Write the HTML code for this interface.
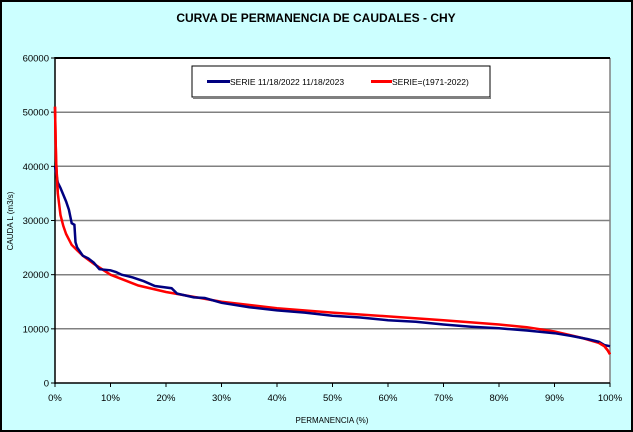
<!DOCTYPE html>
<html><head><meta charset="utf-8"><style>
html,body{margin:0;padding:0;background:#fff}
svg{display:block}
text{font-family:"Liberation Sans",Arial,sans-serif}
</style></head><body>
<svg id="s" width="633" height="432" viewBox="0 0 633 432" xmlns="http://www.w3.org/2000/svg">
<rect x="1" y="1" width="631" height="430" fill="#ccffff" stroke="#000" stroke-width="2"/>
<text x="316" y="22" font-size="12" font-weight="bold" text-anchor="middle">CURVA DE PERMANENCIA DE CAUDALES - CHY</text>
<rect x="55" y="58" width="555" height="325" fill="#fff"/>
<g stroke="#808080" stroke-width="1.5">
<line x1="55" y1="112.2" x2="610" y2="112.2"/>
<line x1="55" y1="166.3" x2="610" y2="166.3"/>
<line x1="55" y1="220.5" x2="610" y2="220.5"/>
<line x1="55" y1="274.7" x2="610" y2="274.7"/>
<line x1="55" y1="328.8" x2="610" y2="328.8"/>
<line x1="610" y1="58" x2="610" y2="383"/>
</g>
<line x1="55" y1="58" x2="610" y2="58" stroke="#000" stroke-width="2"/>
<line x1="55" y1="57" x2="55" y2="384" stroke="#000" stroke-width="1.5"/>
<line x1="55" y1="383" x2="610" y2="383" stroke="#000" stroke-width="1.5"/>
<g id="ticks" stroke="#000" stroke-width="1"></g>
<g font-size="9.5" text-anchor="end" id="ylab"></g>
<g font-size="9.5" text-anchor="middle" id="xlab"></g>
<text x="332" y="423" font-size="8" text-anchor="middle">PERMANENCIA (%)</text>
<text transform="translate(13,221) rotate(-90)" font-size="8" text-anchor="middle">CAUDA L (m3/s)</text>
<polyline id="red" fill="none" stroke="#ff0000" stroke-width="2.5"/>
<polyline id="blue" fill="none" stroke="#000080" stroke-width="2.5"/>
<polyline id="red2" fill="none" stroke="#ff0000" stroke-width="2.5"/>
<polyline id="red3" fill="none" stroke="#ff0000" stroke-width="2.5"/>
<rect x="192" y="66" width="298" height="31" fill="#fff" stroke="#000" stroke-width="1"/>
<line x1="193" y1="98" x2="491" y2="98" stroke="#808080" stroke-width="2"/>
<line x1="207" y1="81.5" x2="230" y2="81.5" stroke="#000080" stroke-width="3"/>
<text x="230" y="85" font-size="8.5">SERIE 11/18/2022 11/18/2023</text>
<line x1="371" y1="81.5" x2="392" y2="81.5" stroke="#ff0000" stroke-width="3"/>
<text x="392" y="85" font-size="8.5">SERIE=(1971-2022)</text>
</svg>
<script>
var X=p=>55+5.55*p, Y=v=>383-v*0.0054167;
function pts(a){return a.map(d=>X(d[0]).toFixed(1)+","+Y(d[1]).toFixed(1)).join(" ");}
var red=[[0,51000],[0.1,45000],[0.2,41000],[0.5,35000],[1,31000],[1.5,29000],[2,27500],[3,25500],[4,24500],[5,23500],[7,22000],[10,20000],[15,18000],[20,16800],[25,15900],[30,15000],[40,13800],[50,13000],[60,12300],[70,11600],[80,10800],[85,10300],[90,9500],[95,8300],[98,7400],[99,6800],[99.6,6000],[100,5300]];
var blue=[[0,40000],[0.5,37000],[1,36000],[2,33500],[2.5,32000],[3,29500],[3.5,29200],[3.7,26000],[4,25000],[5,23500],[6,23000],[7,22200],[8,21000],[10,20800],[11,20500],[12,20000],[14,19500],[16,18800],[18,17900],[21,17500],[22,16500],[25,15800],[27,15700],[30,14800],[35,14000],[40,13400],[45,13000],[50,12400],[55,12100],[60,11600],[65,11300],[70,10800],[75,10400],[80,10100],[85,9700],[90,9200],[93,8700],[96,8100],[98,7600],[99,7000],[100,6800]];
document.getElementById("red").setAttribute("points",pts(red));
document.getElementById("blue").setAttribute("points",pts(blue));
document.getElementById("red2").setAttribute("points",pts(red.filter(d=>d[0]<=0.5)));
document.getElementById("red3").setAttribute("points",pts(red.filter(d=>d[0]>=98)));
var ns="http://www.w3.org/2000/svg",t=document.getElementById("ticks"),yl=document.getElementById("ylab"),xl=document.getElementById("xlab");
for(var i=0;i<=6;i++){var y=Y(i*10000);var l=document.createElementNS(ns,"line");l.setAttribute("x1",51);l.setAttribute("x2",55);l.setAttribute("y1",y);l.setAttribute("y2",y);t.appendChild(l);
var tx=document.createElementNS(ns,"text");tx.setAttribute("x",49);tx.setAttribute("y",y+3.5);tx.textContent=i*10000;yl.appendChild(tx);}
for(var j=0;j<=10;j++){var x=X(j*10);var l=document.createElementNS(ns,"line");l.setAttribute("x1",x);l.setAttribute("x2",x);l.setAttribute("y1",383);l.setAttribute("y2",387);t.appendChild(l);
var tx=document.createElementNS(ns,"text");tx.setAttribute("x",x);tx.setAttribute("y",401);tx.textContent=(j*10)+"%";xl.appendChild(tx);}
</script>
</body></html>
